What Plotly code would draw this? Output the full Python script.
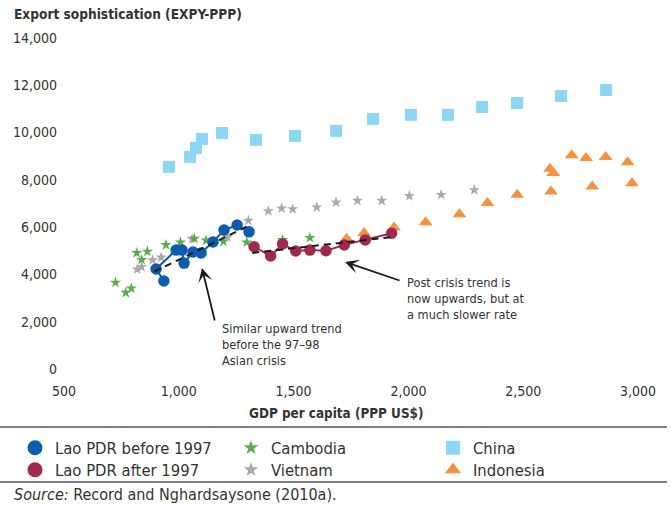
import plotly.graph_objects as go

# ---------------- data ----------------
lao_pre_gdp = [935, 901, 988, 1014, 1023, 1062, 1097, 1149, 1197, 1254, 1306]
lao_pre_expy = [3720, 4230, 5030, 5030, 4480, 4950, 4910, 5370, 5880, 6090, 5800]

lao_post_gdp = [1328, 1400, 1452, 1509, 1571, 1641, 1721, 1812, 1927]
lao_post_expy = [5170, 4780, 5290, 4990, 5030, 5000, 5250, 5460, 5740]

cambodia_gdp = [724, 769, 793, 817, 838, 863, 944, 1007, 1068, 1119, 1194, 1296, 1452, 1571]
cambodia_expy = [3660, 3230, 3410, 4910, 4620, 4970, 5250, 5360, 5520, 5440, 5390, 5360, 5460, 5550]

vietnam_gdp = [819, 838, 886, 923, 1058, 1212, 1303, 1390, 1448, 1496, 1601, 1685, 1778, 1884, 2004, 2143, 2287]
vietnam_expy = [4220, 4320, 4610, 4720, 5500, 5580, 6280, 6680, 6800, 6760, 6840, 7050, 7120, 7120, 7320, 7370, 7570]

china_gdp = [957, 1049, 1075, 1101, 1188, 1336, 1506, 1685, 1846, 2011, 2172, 2321, 2473, 2665, 2861]
china_expy = [8550, 8970, 9350, 9730, 9980, 9690, 9860, 10070, 10580, 10750, 10750, 11080, 11250, 11550, 11800]

indonesia_gdp = [1731, 1807, 1937, 2075, 2222, 2344, 2474, 2621, 2617, 2631, 2711, 2774, 2859, 2955, 2801, 2974]
indonesia_expy = [5510, 5750, 5990, 6210, 6550, 7020, 7370, 7510, 8470, 8290, 9040, 8920, 8970, 8750, 7720, 7860]

trend_pre_gdp = [893, 1296]
trend_pre_expy = [4116, 6020]
trend_post_gdp = [1320, 1935]
trend_post_expy = [4910, 5590]

x_ticks = [500, 1000, 1500, 2000, 2500, 3000]
y_ticks = [0, 2000, 4000, 6000, 8000, 10000, 12000, 14000]

# ---------------- styles ----------------
FONT = "DejaVu Sans Condensed, Liberation Sans Narrow, sans-serif"
TXT = "#333333"
BLUE = "#0b5cad"
RED = "#a3284f"
GREEN = "#5cad4a"
GREY = "#a7a9ac"
CYAN = "#8dd7f6"
ORANGE = "#f7913d"

fig = go.Figure()

# data traces (no legend)
fig.add_trace(go.Scatter(x=china_gdp, y=china_expy, mode="markers",
                         marker=dict(symbol="square", size=12, color=CYAN), showlegend=False))
fig.add_trace(go.Scatter(x=indonesia_gdp, y=indonesia_expy, mode="markers",
                         marker=dict(symbol="triangle-up", size=12, color=ORANGE), showlegend=False))
fig.add_trace(go.Scatter(x=vietnam_gdp, y=vietnam_expy, mode="markers",
                         marker=dict(symbol="star", size=8.5, color=GREY), showlegend=False))
fig.add_trace(go.Scatter(x=cambodia_gdp, y=cambodia_expy, mode="markers",
                         marker=dict(symbol="star", size=8.5, color=GREEN), showlegend=False))
fig.add_trace(go.Scatter(x=lao_pre_gdp, y=lao_pre_expy, mode="lines+markers",
                         line=dict(color=BLUE, width=2),
                         marker=dict(symbol="circle", size=11.5, color=BLUE), showlegend=False))
fig.add_trace(go.Scatter(x=lao_post_gdp, y=lao_post_expy, mode="lines+markers",
                         line=dict(color=RED, width=2),
                         marker=dict(symbol="circle", size=11.5, color=RED), showlegend=False))
fig.add_trace(go.Scatter(x=trend_pre_gdp, y=trend_pre_expy, mode="lines",
                         line=dict(color="#1a1a1a", width=2, dash="7px,5px"), showlegend=False))
fig.add_trace(go.Scatter(x=trend_post_gdp, y=trend_post_expy, mode="lines",
                         line=dict(color="#1a1a1a", width=2, dash="7px,5px"), showlegend=False))

# legend-only traces, one legend each
legend_items = [
    ("Lao PDR before 1997", "circle", 15, BLUE, "legend"),
    ("Lao PDR after 1997", "circle", 15, RED, "legend2"),
    ("Cambodia", "star", 11, GREEN, "legend3"),
    ("Vietnam", "star", 11, GREY, "legend4"),
    ("China", "square", 14, CYAN, "legend5"),
    ("Indonesia", "triangle-up", 14, ORANGE, "legend6"),
]
for name, sym, sz, col, lg in legend_items:
    fig.add_trace(go.Scatter(x=[None], y=[None], mode="markers", name=name,
                             marker=dict(symbol=sym, size=sz, color=col),
                             showlegend=True, legend=lg))

# plot-area pixel geometry helpers (paper coords)
L, R, T, B = 64, 33, 38, 137
W, H = 671, 506
PW, PH = W - L - R, H - T - B


def px(xp):
    return (xp - L) / PW


def py(yp):
    return (H - B - yp) / PH


leg_common = dict(bgcolor="rgba(0,0,0,0)", borderwidth=0,
                  font=dict(family=FONT, size=16.5, color=TXT),
                  xanchor="left", yanchor="middle", orientation="v")
col_x = [15, 231, 433]
row_y = [448, 470]
layout_legends = {}
names = ["legend", "legend2", "legend3", "legend4", "legend5", "legend6"]
for i, nm in enumerate(names):
    c, r = divmod(i, 2)
    layout_legends[nm] = dict(leg_common, x=px(col_x[c]), y=py(row_y[r]))

annotations = []
annotations.append(dict(text="<b>Export sophistication (EXPY-PPP)</b>", xref="paper", yref="paper",
                        x=px(12), y=py(14), xanchor="left", yanchor="middle", showarrow=False,
                        font=dict(family=FONT, size=13.6, color=TXT)))
annotations.append(dict(text="<b>GDP per capita (PPP US$)</b>", xref="paper", yref="paper",
                        x=px(336), y=py(413), xanchor="center", yanchor="middle", showarrow=False,
                        font=dict(family=FONT, size=13.4, color=TXT)))
annotations.append(dict(text="<i>Source:</i> Record and Nghardsaysone (2010a).", xref="paper", yref="paper",
                        x=px(12), y=py(494), xanchor="left", yanchor="middle", showarrow=False,
                        font=dict(family=FONT, size=16, color=TXT)))

for i, line in enumerate(["Similar upward trend", "before the 97\u201398", "Asian crisis"]):
    annotations.append(dict(text=line, xref="paper", yref="paper", x=px(220), y=py(328 + 16 * i),
                            xanchor="left", yanchor="middle", showarrow=False,
                            font=dict(family=FONT, size=12.7, color=TXT)))
for i, line in enumerate(["Post crisis trend is", "now upwards, but at", "a much slower rate"]):
    annotations.append(dict(text=line, xref="paper", yref="paper", x=px(405), y=py(282 + 16 * i),
                            xanchor="left", yanchor="middle", showarrow=False,
                            font=dict(family=FONT, size=12.7, color=TXT)))

annotations.append(dict(text="", x=1101, y=4272, xref="x", yref="y", ax=1158, ay=1990,
                        axref="x", ayref="y", showarrow=True, arrowhead=3, arrowsize=1.3,
                        arrowwidth=1.8, arrowcolor="#1a1a1a"))
annotations.append(dict(text="", x=1724, y=4526, xref="x", yref="y", ax=1968, ay=3722,
                        axref="x", ayref="y", showarrow=True, arrowhead=3, arrowsize=1.3,
                        arrowwidth=1.8, arrowcolor="#1a1a1a"))

shapes = [
    dict(type="line", xref="paper", yref="paper", x0=px(0), x1=px(667), y0=py(427), y1=py(427),
         line=dict(color="#555555", width=1.5)),
    dict(type="line", xref="paper", yref="paper", x0=px(0), x1=px(667), y0=py(482), y1=py(482),
         line=dict(color="#555555", width=1.5)),
]

fig.update_layout(
    width=W, height=H,
    margin=dict(l=L, r=R, t=T, b=B, pad=0, autoexpand=False),
    paper_bgcolor="white", plot_bgcolor="white",
    font=dict(family=FONT, size=14, color=TXT),
    xaxis=dict(range=[500, 3000], tickvals=x_ticks, tickformat=",d", showgrid=False, zeroline=False,
               showline=False, ticks="", ticklabelstandoff=12,
               tickfont=dict(family=FONT, size=14, color=TXT)),
    yaxis=dict(range=[0, 14000], tickvals=y_ticks, tickformat=",d", showgrid=False, zeroline=False,
               showline=False, ticks="", ticklabelstandoff=6,
               tickfont=dict(family=FONT, size=14, color=TXT)),
    annotations=annotations,
    shapes=shapes,
    **layout_legends,
)

fig.write_html("out.html",
               config={"displayModeBar": False},
               post_script="document.body.style.margin='0';document.body.style.overflow='hidden';")
